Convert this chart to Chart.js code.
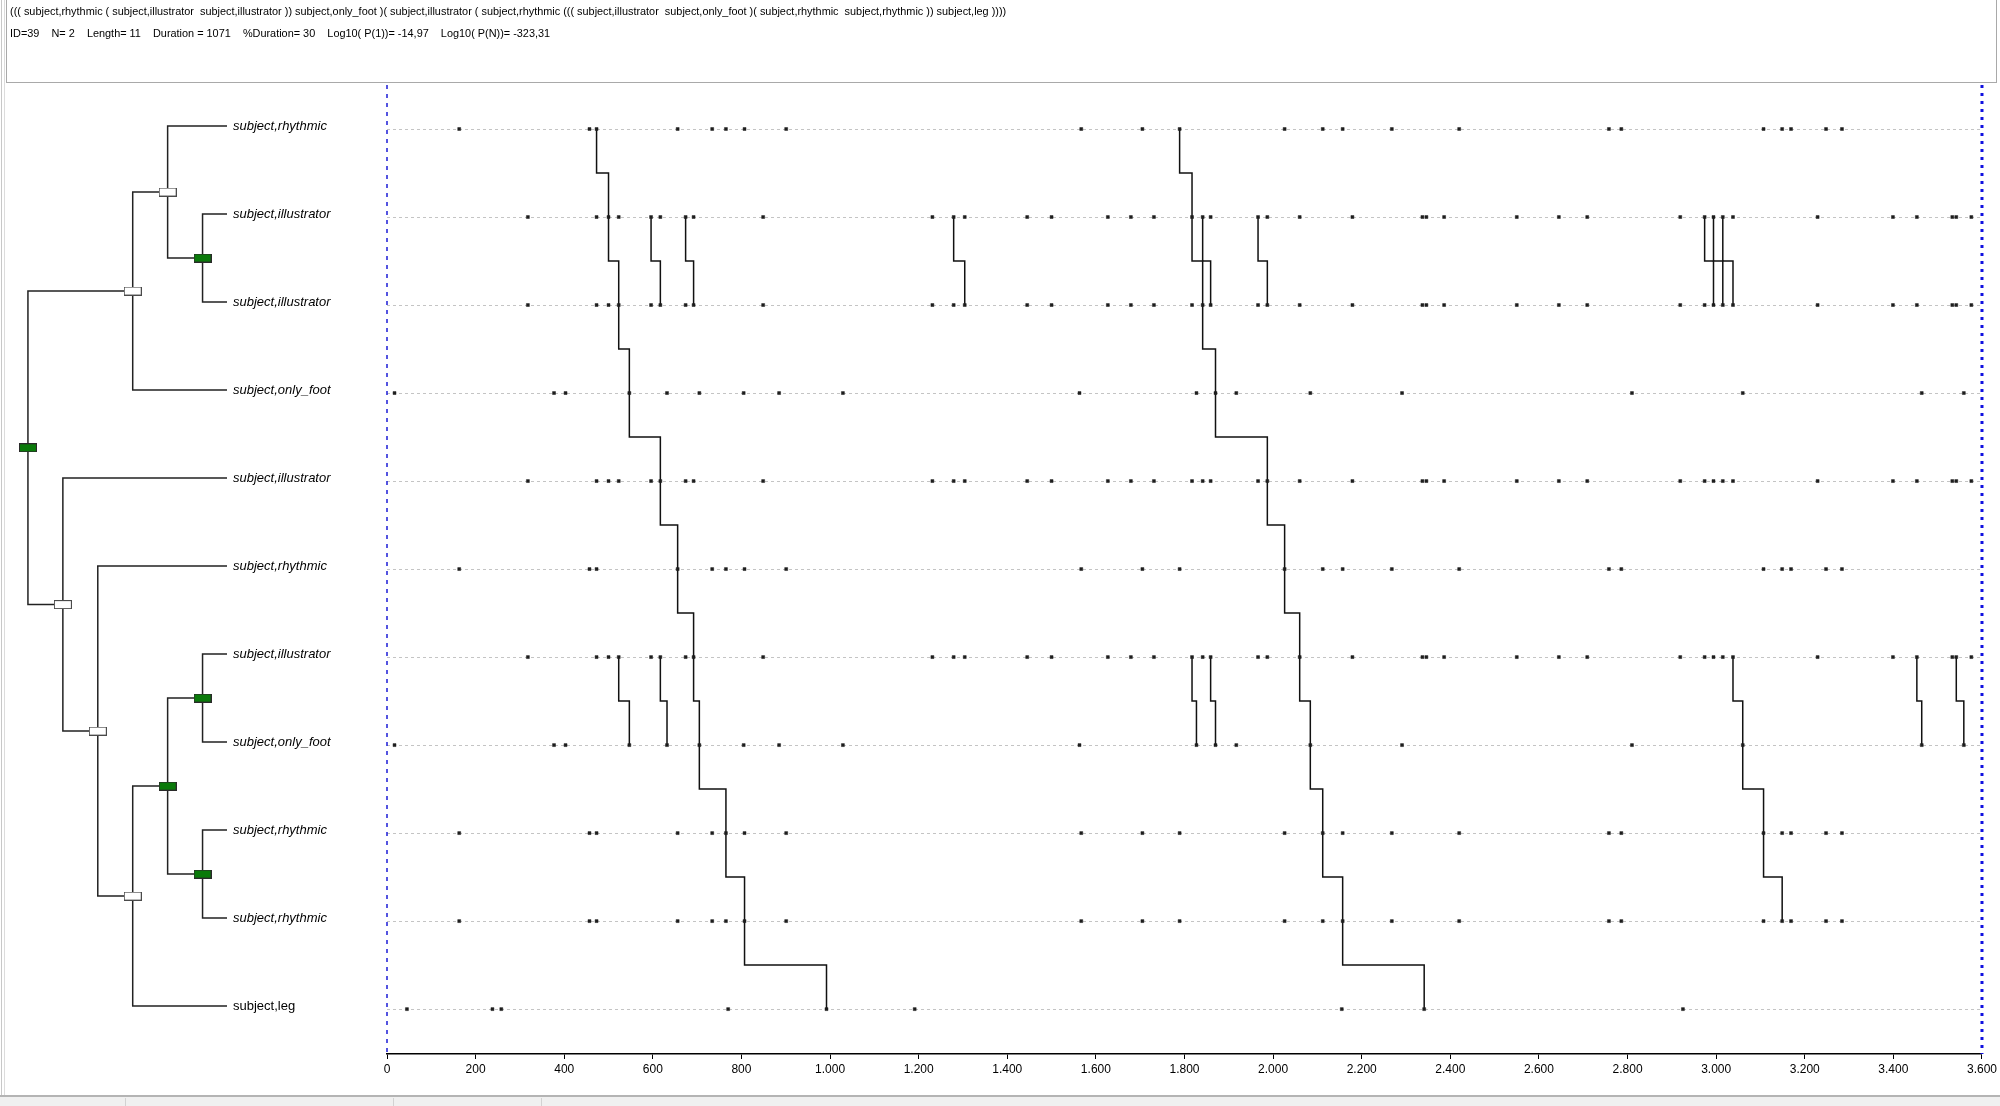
<!DOCTYPE html>
<html>
<head>
<meta charset="utf-8">
<script src="https://cdn.jsdelivr.net/npm/chart.js@4.4.1/dist/chart.umd.min.js"></script>
<style>
  body { margin:0; width:2000px; height:1106px; background:#fff; overflow:hidden; position:relative; font-family:'Liberation Sans', Arial, sans-serif; }
  #header { position:absolute; left:6px; top:-1px; width:1991px; height:84px; border:1px solid #a9a9a9; box-sizing:border-box; z-index:2; }
  #header div { position:absolute; left:3px; font-size:10.9px; color:#000; white-space:pre; }
  #plot { position:absolute; left:0; top:0; }
  #tree { position:absolute; left:0; top:82px; }
  #edge { position:absolute; left:1px; top:0; width:2px; height:1095px; border-left:1px solid #c8c8c8; border-right:1px solid #dcdcdc; }
  #footer { position:absolute; left:0; top:1095px; width:2000px; height:11px; border-top:2px solid #b4b4b4; background:#f0f0f0; }
  .sep { position:absolute; top:1px; bottom:0; width:1px; background:#d2d2d2; }
</style>
</head>
<body>
<div id="edge"></div>
<div id="header">
  <div id="pattern" style="top:5px"></div>
  <div id="stats" style="top:27px"></div>
</div>
<canvas id="plot" width="2000" height="1096"></canvas>
<canvas id="tree" width="387" height="969"></canvas>
<div id="footer"><div class="sep" style="left:125px"></div><div class="sep" style="left:393px"></div><div class="sep" style="left:541px"></div></div>
<script>
// pattern text and statistics shown above the chart
const patternText = '((( subject,rhythmic ( subject,illustrator  subject,illustrator )) subject,only_foot )( subject,illustrator ( subject,rhythmic ((( subject,illustrator  subject,only_foot )( subject,rhythmic  subject,rhythmic )) subject,leg ))))';
const statsText = 'ID=39    N= 2    Length= 11    Duration = 1071    %Duration= 30    Log10( P(1))= -14,97    Log10( P(N))= -323,31';

// one row per leaf of the pattern tree, top to bottom
const rowLabels = ['subject,rhythmic', 'subject,illustrator', 'subject,illustrator', 'subject,only_foot',
  'subject,illustrator', 'subject,rhythmic', 'subject,illustrator', 'subject,only_foot',
  'subject,rhythmic', 'subject,rhythmic', 'subject,leg'];
const plainLabels = ['subject,leg'];

// event times of each event type
const rhythmicTimes = [163, 457, 473, 656, 734, 765, 807, 901, 1567, 1705, 1789, 2026, 2112, 2157, 2268, 2420, 2758, 2786, 3107, 3149, 3169, 3248, 3284];
const illustratorTimes = [318, 473, 500, 523, 596, 617, 674, 692, 849, 1231, 1279, 1304, 1445, 1500, 1627, 1679, 1731, 1817, 1841, 1859, 1966, 1987, 2060, 2179, 2337, 2346, 2386, 2550, 2645, 2709, 2919, 2974, 2994, 3015, 3038, 3229, 3399, 3453, 3533, 3542, 3576];
const onlyFootTimes = [17, 377, 403, 547, 632, 705, 805, 885, 1029, 1563, 1827, 1870, 1917, 2084, 2291, 2810, 3060, 3464, 3559];
const legTimes = [45, 238, 258, 770, 992, 1191, 2155, 2341, 2925];

// full occurrences (row 0 to row 10)
const occurrence1 = [473, 500, 523, 547, 617, 656, 692, 705, 765, 807, 992];
const occurrence2 = [1789, 1817, 1841, 1870, 1987, 2026, 2060, 2084, 2112, 2157, 2341];
// partial occurrences of sub-patterns
const illusIllusPairs = [[596, 617], [674, 692], [1279, 1304], [1841, 1859], [1966, 1987], [2974, 2994], [2994, 3015], [3015, 3038]];
const illusFootPairs = [[523, 547], [617, 632], [1817, 1827], [1859, 1870], [3453, 3464], [3542, 3559]];
const subTreeOccurrence = [3038, 3060, 3107, 3149];

const xTicks = [0, 200, 400, 600, 800, 1000, 1200, 1400, 1600, 1800, 2000, 2200, 2400, 2600, 2800, 3000, 3200, 3400, 3600];

// pattern tree as nested leaf rows; significant nodes named by their leaf span
const tree = [[[0, [1, 2]], 3], [4, [5, [[[6, 7], [8, 9]], 10]]]];
const significantNodes = ['1-2', '6-7', '8-9', '6-9', '0-10'];

const timesByLabel = {
  'subject,rhythmic': rhythmicTimes,
  'subject,illustrator': illustratorTimes,
  'subject,only_foot': onlyFootTimes,
  'subject,leg': legTimes
};

document.getElementById('pattern').textContent = patternText;
document.getElementById('stats').textContent = statsText;

const yMin = -0.5, yMax = 10.51;

function fmt(v) {
  return String(v).replace(/\B(?=(\d{3})+(?!\d))/g, '.');
}

// step path: down to half-way between rows, across, down to next row
function stepPath(startRow, times) {
  const pts = [];
  times.forEach((t, i) => {
    const r = startRow + i;
    if (i > 0) pts.push({ x: t, y: r - 0.5 });
    pts.push({ x: t, y: r });
    if (i < times.length - 1) pts.push({ x: t, y: r + 0.5 });
  });
  return pts;
}

const paths = [
  { row: 0, times: occurrence1 },
  { row: 0, times: occurrence2 },
  ...illusIllusPairs.map(p => ({ row: 1, times: p })),
  ...illusFootPairs.map(p => ({ row: 6, times: p })),
  { row: 6, times: subTreeOccurrence }
];

const dots = [];
rowLabels.forEach((lab, r) => {
  timesByLabel[lab].forEach(t => dots.push({ x: t, y: r }));
});

const datasets = [{
  data: dots,
  pointStyle: 'rect',
  pointRadius: 2.1,
  backgroundColor: '#1e1e1e',
  borderColor: '#1e1e1e',
  borderWidth: 0.5
}];
paths.forEach(p => datasets.push({
  data: stepPath(p.row, p.times),
  showLine: true,
  pointRadius: 0,
  borderColor: '#111',
  borderWidth: 1.5,
  clip: false
}));
datasets.push({
  data: [{ x: xTicks[0], y: yMin }, { x: xTicks[0], y: yMax }],
  showLine: true, pointRadius: 0, borderColor: '#1c1cd6', borderWidth: 1.5, borderDash: [4, 5], clip: false
});
datasets.push({
  data: [{ x: xTicks[xTicks.length - 1], y: yMin }, { x: xTicks[xTicks.length - 1], y: yMax }],
  showLine: true, pointRadius: 0, borderColor: '#1010e0', borderWidth: 3, borderDash: [3, 5], clip: false
});

new Chart(document.getElementById('plot'), {
  type: 'scatter',
  data: { datasets },
  options: {
    responsive: false,
    animation: false,
    devicePixelRatio: 1,
    layout: { padding: { left: 387, right: 12, top: 85, bottom: 0 } },
    plugins: { legend: { display: false }, tooltip: { enabled: false } },
    scales: {
      x: {
        type: 'linear', min: xTicks[0], max: xTicks[xTicks.length - 1],
        afterBuildTicks: s => { s.ticks = xTicks.map(v => ({ value: v })); },
        afterFit: s => { s.height = 42; },
        ticks: {
          color: '#000', padding: 3, maxRotation: 0, autoSkip: false,
          font: { family: 'Liberation Sans', size: 12 },
          callback: v => fmt(v)
        },
        grid: { drawOnChartArea: false, drawTicks: true, tickLength: 5, color: '#000' },
        border: { display: true, color: '#000', width: 1.5 }
      },
      y: {
        type: 'linear', min: yMin, max: yMax, reverse: true,
        afterBuildTicks: s => { s.ticks = rowLabels.map((_, i) => ({ value: i })); },
        afterFit: s => { s.width = 0; },
        ticks: { display: false },
        grid: { color: '#c4c4c4', drawTicks: false, lineWidth: 1 },
        border: { display: false, dash: [3, 3] }
      }
    }
  }
});

// ---- pattern tree ----
const leafLevel = 0.3;
function layout(node, out) {
  if (typeof node === 'number') {
    return { leaf: true, first: node, last: node, y: node, level: 0, x: leafLevel };
  }
  const kids = node.map(k => layout(k, out));
  const level = Math.max(...kids.map(k => k.level)) + 1;
  const n = {
    leaf: false, kids, level, x: level,
    first: kids[0].first, last: kids[kids.length - 1].last,
    y: (kids[0].y + kids[kids.length - 1].y) / 2
  };
  out.push(n);
  return n;
}
const nodes = [];
layout(tree, nodes);

function box(fill, stroke) {
  const c = document.createElement('canvas');
  c.width = 18; c.height = 9;
  const g = c.getContext('2d');
  g.fillStyle = fill;
  g.fillRect(0, 0, 18, 9);
  g.strokeStyle = stroke;
  g.lineWidth = 1;
  g.strokeRect(0.5, 0.5, 17, 8);
  return c;
}
const greenBox = box('#0a7a0a', '#2a2a2a');
const whiteBox = box('#ffffff', '#4a4a4a');

const treeSets = [];
const isSig = n => significantNodes.includes(n.first + '-' + n.last);
treeSets.push({ data: nodes.filter(isSig).map(n => ({ x: n.x, y: n.y })), pointStyle: greenBox, pointRadius: 5 });
treeSets.push({ data: nodes.filter(n => !isSig(n)).map(n => ({ x: n.x, y: n.y })), pointStyle: whiteBox, pointRadius: 5 });
nodes.forEach(n => n.kids.forEach(k => treeSets.push({
  data: [{ x: n.x, y: n.y }, { x: n.x, y: k.y }, { x: k.x, y: k.y }],
  showLine: true, pointRadius: 0, borderColor: '#222', borderWidth: 1.5, clip: false
})));

function labelFont(c) {
  const lab = c && c.tick ? rowLabels[c.tick.value] : '';
  return { family: 'Liberation Sans', size: 13, style: plainLabels.includes(lab) ? 'normal' : 'italic' };
}

new Chart(document.getElementById('tree'), {
  type: 'scatter',
  data: { datasets: treeSets },
  options: {
    responsive: false,
    animation: false,
    devicePixelRatio: 1,
    layout: { padding: 0, autoPadding: false },
    plugins: { legend: { display: false }, tooltip: { enabled: false } },
    scales: {
      x: { type: 'linear', min: leafLevel, max: 6.8, reverse: true, display: false },
      y: {
        type: 'linear', min: yMin, max: yMax, reverse: true, position: 'right',
        afterBuildTicks: s => { s.ticks = rowLabels.map((_, i) => ({ value: i })); },
        afterFit: s => { s.width = 160; s.paddingTop = 0; s.paddingBottom = 0; },
        ticks: {
          color: '#000', padding: 6,
          font: labelFont,
          callback: v => rowLabels[v]
        },
        grid: { display: false, drawTicks: false },
        border: { display: false }
      }
    }
  }
});
</script>
</body>
</html>
